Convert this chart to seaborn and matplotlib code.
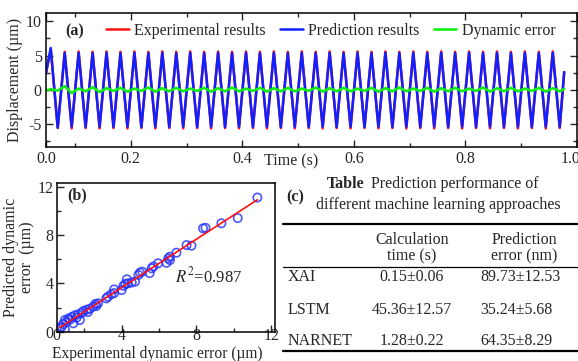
import numpy as np
import pandas as pd
import matplotlib
matplotlib.use("Agg")
import matplotlib.pyplot as plt
import matplotlib.transforms as mtransforms
from matplotlib.lines import Line2D
from matplotlib.ticker import MultipleLocator
import seaborn as sns

# (a) displacement, read at the turning points of the drive signal
t_start, t_end = 0.048, 0.977
first_peak_t = 0.0565
period = 0.025

exp_start, exp_end = 2.5, 2.6
exp_peaks = [5.9, 5.55, 5.6, 5.55, 5.6, 5.55, 5.6, 5.55, 5.6, 5.55,
             5.6, 5.55, 5.6, 5.55, 5.6, 5.55, 5.6, 5.55, 5.6, 5.55,
             5.6, 5.55, 5.6, 5.55, 5.6, 5.55, 5.6, 5.55, 5.6, 5.55,
             5.6, 5.55, 5.6, 5.55, 5.6, 5.55, 5.6]
exp_troughs = [-5.55, -5.6, -5.55, -5.6, -5.55, -5.6, -5.55, -5.6, -5.55, -5.6,
               -5.55, -5.6, -5.55, -5.6, -5.55, -5.6, -5.55, -5.6, -5.55, -5.6,
               -5.55, -5.6, -5.55, -5.6, -5.55, -5.6, -5.55, -5.6, -5.55, -5.6,
               -5.55, -5.6, -5.55, -5.6, -5.55, -5.6, -5.55]

pred_start, pred_end = 2.5, 2.6
pred_peaks = [6.1, 5.35, 5.4, 5.35, 5.4, 5.35, 5.4, 5.35, 5.4, 5.35,
              5.4, 5.35, 5.4, 5.35, 5.4, 5.35, 5.4, 5.35, 5.4, 5.35,
              5.4, 5.35, 5.4, 5.35, 5.4, 5.35, 5.4, 5.35, 5.4, 5.35,
              5.4, 5.35, 5.4, 5.35, 5.4, 5.35, 5.4]
pred_troughs = [-5.5, -5.35, -5.4, -5.35, -5.4, -5.35, -5.4, -5.35, -5.4, -5.35,
                -5.4, -5.35, -5.4, -5.35, -5.4, -5.35, -5.4, -5.35, -5.4, -5.35,
                -5.4, -5.35, -5.4, -5.35, -5.4, -5.35, -5.4, -5.35, -5.4, -5.35,
                -5.4, -5.35, -5.4, -5.35, -5.4, -5.35, -5.4]

err_start, err_end = -0.1, 0.15
err_peaks = [0.1, 0.55, 0.2, 0.4, 0.25, 0.3, 0.2, 0.35, 0.25, 0.3,
             0.2, 0.3, 0.25, 0.35, 0.2, 0.3, 0.25, 0.3, 0.2, 0.35,
             0.25, 0.3, 0.2, 0.3, 0.25, 0.35, 0.2, 0.3, 0.25, 0.3,
             0.2, 0.35, 0.25, 0.3, 0.2, 0.3, 0.25]
err_troughs = [-0.1, -0.45, -0.2, -0.3, -0.15, -0.25, -0.15, -0.25, -0.2, -0.2,
               -0.15, -0.25, -0.2, -0.2, -0.15, -0.25, -0.2, -0.2, -0.15, -0.25,
               -0.2, -0.2, -0.15, -0.25, -0.2, -0.2, -0.15, -0.25, -0.2, -0.2,
               -0.15, -0.25, -0.2, -0.2, -0.15, -0.25, -0.2]

# (b) experimental vs predicted dynamic error (um)
exp_err = [11.25, 10.2, 9.33, 8.35, 8.48, 7.73, 7.47, 6.93, 6.58, 6.49,
           6.4, 5.95, 5.6, 5.7, 5.5, 4.98, 4.9, 4.72, 4.54, 4.28,
           4.33, 4.1, 4.2, 4.0, 3.6, 3.45, 3.18, 3.27, 2.74, 2.65,
           2.49, 2.3, 2.13, 2.2, 1.95, 1.86, 1.68, 1.5, 1.6, 1.33,
           1.24, 1.15, 1.06, 0.97, 0.88, 0.8, 0.7, 0.97, 1.42, 1.77,
           2.6, 3.6, 5.1, 6.58]
pred_err = [11.1, 9.4, 8.97, 8.55, 8.6, 7.12, 7.17, 6.54, 6.21, 6.07,
            5.7, 5.66, 5.25, 5.4, 4.85, 4.89, 4.7, 4.15, 4.07, 4.34,
            4.0, 3.8, 3.95, 3.45, 3.5, 3.1, 2.76, 2.9, 2.35, 2.13,
            2.08, 1.9, 1.82, 1.63, 1.71, 1.55, 1.44, 1.36, 1.17, 1.22,
            1.0, 1.09, 0.82, 0.97, 0.64, 0.42, 0.28, 0.2, 0.7, 0.97,
            2.3, 3.2, 4.97, 5.93]
r2_text = "$R^2$=0.987"

# (c) table
methods = ["XAI", "LSTM", "NARNET"]
calc_time = ["0.15\u00b10.06", "45.36\u00b112.57", "1.28\u00b10.22"]
pred_error = ["89.73\u00b112.53", "35.24\u00b15.68", "64.35\u00b18.29"]


def build_series(start, peaks, troughs, end):
    vals = [start]
    for p, q in zip(peaks, troughs):
        vals += [p, q]
    vals.append(end)
    return vals


ext_t = first_peak_t + period / 2 * np.arange(2 * len(exp_peaks))
times = np.concatenate([[t_start], ext_t, [t_end]])
df_a = pd.DataFrame({
    "t": times,
    "exp": build_series(exp_start, exp_peaks, exp_troughs, exp_end),
    "pred": build_series(pred_start, pred_peaks, pred_troughs, pred_end),
    "err": build_series(err_start, err_peaks, err_troughs, err_end),
})
df_b = pd.DataFrame({"x": exp_err, "y": pred_err})

sns.set_style("ticks")
plt.rcParams["font.family"] = ["Liberation Serif", "DejaVu Serif"]
plt.rcParams["mathtext.fontset"] = "stix"
plt.rcParams["axes.unicode_minus"] = False
plt.rcParams["font.size"] = 11.5

fig = plt.figure(figsize=(5.78, 3.61), dpi=100)
ax1 = fig.add_axes([0.0796, 0.593, 0.9187, 0.371])
ax2 = fig.add_axes([0.098, 0.081, 0.378, 0.412])

# ---- panel (a)
sns.lineplot(data=df_a, x="t", y="exp", color="#ff1010", lw=1.8, ax=ax1,
             label="Experimental results", sort=False, estimator=None)
sns.lineplot(data=df_a, x="t", y="pred", color="#1020ff", lw=1.8, ax=ax1,
             label="Prediction results", sort=False, estimator=None)
sns.lineplot(data=df_a, x="t", y="err", color="#10ee10", lw=1.9, ax=ax1,
             label="Dynamic error", sort=False, estimator=None)
ax1.set_xlim(t_start, 1.0)
ax1.set_ylim(-8.3, 11.2)
ax1.set_xticks([t_start, 0.2, 0.4, 0.6, 0.8, 1.0])
ax1.set_xticklabels(["0.0", "0.2", "0.4", "0.6", "0.8", "1.0"])
ax1.xaxis.set_minor_locator(MultipleLocator(0.1))
ax1.set_yticks([-5, 0, 5, 10])
ax1.yaxis.set_minor_locator(MultipleLocator(2.5))
ax1.tick_params(which="both", direction="in", top=True, right=True,
                width=1, labelsize=11.5, pad=3)
ax1.tick_params(which="major", length=5)
ax1.tick_params(which="minor", length=3)
# last label sits against the figure edge, nudge it in a little
last_lbl = ax1.get_xticklabels()[-1]
last_lbl.set_transform(last_lbl.get_transform() +
                       mtransforms.ScaledTranslation(-6 / 100, 0, fig.dpi_scale_trans))
ax1.set_ylabel("Displacement (\u00b5m)", fontsize=11.5, labelpad=2)
ax1.set_xlabel("Time (s)", fontsize=11.5)
ax1.xaxis.set_label_coords(0.461, -0.045)
ax1.legend(ncol=3, frameon=False, loc="center right",
           bbox_to_anchor=(0.975, 0.865), handlelength=1.4,
           handletextpad=0.35, columnspacing=0.9, borderpad=0,
           fontsize=11.5)
ax1.text(0.036, 0.865, "(a)", transform=ax1.transAxes, fontsize=11.5,
         fontweight="bold", va="center")

# ---- panel (b)
sns.regplot(data=df_b, x="x", y="y", ax=ax2, ci=None,
            scatter_kws=dict(s=36, facecolors="none", edgecolors="#2030ff",
                             linewidths=1.2),
            line_kws=dict(color="#ff1010", lw=1.2))
ax2.set_xlim(0.53, 12.2)
ax2.set_ylim(0, 12.3)
ax2.set_xticks([0.53, 4, 8, 12])
ax2.set_xticklabels(["0", "4", "8", "12"])
ax2.set_yticks([0, 4, 8, 12])
ax2.xaxis.set_minor_locator(MultipleLocator(2))
ax2.yaxis.set_minor_locator(MultipleLocator(2))
ax2.tick_params(which="both", direction="in", width=1, labelsize=11.5, pad=2)
ax2.tick_params(axis="x", pad=-2.5)
ax2.tick_params(which="major", length=5)
ax2.tick_params(which="minor", length=3)
ax2.set_xlabel("Experimental dynamic error (\u00b5m)", fontsize=11.2, labelpad=0)
ax2.xaxis.set_label_coords(0.46, -0.094)
ax2.set_ylabel("Predicted dynamic\nerror  (\u00b5m)", fontsize=11.5,
               linespacing=1.0, labelpad=2)
ax2.text(0.54, 0.37, r2_text, transform=ax2.transAxes, fontsize=12,
         va="center")
ax2.text(0.047, 0.92, "(b)", transform=ax2.transAxes, fontsize=11.5,
         fontweight="bold", va="center")

for ax in (ax1, ax2):
    for sp in ax.spines.values():
        sp.set_linewidth(1.1)
        sp.set_color("black")

# ---- panel (c) table


def fx(px):
    return px / 578


def fy(py):
    return 1 - py / 361


fs = 11.5
fig.text(fx(286), fy(197), "(c)", fontsize=fs, fontweight="bold", va="center")
fig.text(fx(327), fy(184), "Table", fontsize=fs, fontweight="bold", va="center")
fig.text(fx(371), fy(184), "Prediction performance of", fontsize=fs, va="center")
fig.text(fx(438), fy(205), "different machine learning approaches", fontsize=fs,
         va="center", ha="center")

for py, lw in [(223.5, 1.6), (266.5, 0.9), (350.5, 1.6)]:
    fig.add_artist(Line2D([fx(283), fx(578)], [fy(py), fy(py)], lw=lw,
                          color="black", transform=fig.transFigure))

fig.text(fx(412), fy(240), "Calculation", fontsize=fs, ha="center", va="center")
fig.text(fx(412), fy(256), "time (s)", fontsize=fs, ha="center", va="center")
fig.text(fx(524), fy(240), "Prediction", fontsize=fs, ha="center", va="center")
fig.text(fx(524), fy(256), "error (nm)", fontsize=fs, ha="center", va="center")

row_y = [277, 310, 341]
for name, ct, pe, py in zip(methods, calc_time, pred_error, row_y):
    fig.text(fx(288), fy(py), name, fontsize=fs, va="center")
    fig.text(fx(412), fy(py), ct, fontsize=fs, ha="center", va="center")
    fig.text(fx(480), fy(py), pe, fontsize=fs, ha="left", va="center")

fig.savefig("out.png", dpi=100)
